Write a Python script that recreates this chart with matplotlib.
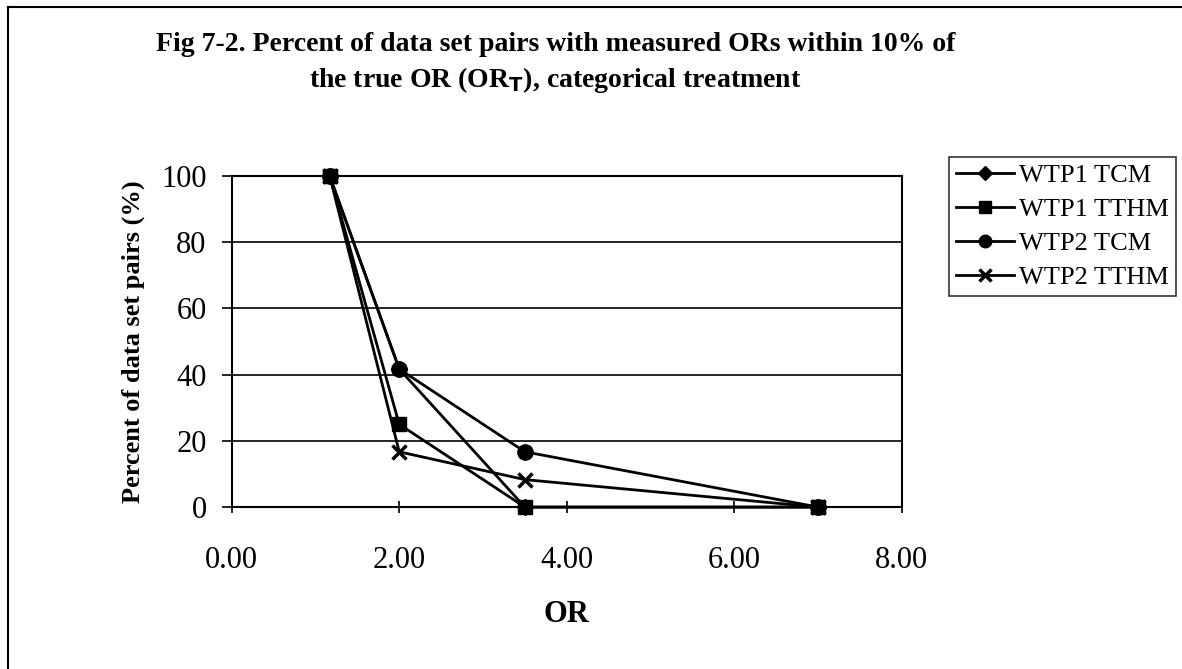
import matplotlib.pyplot as plt
from matplotlib.lines import Line2D

# odds ratios (x) and percent of pairs within 10% of true OR (y)
odds_ratio = [1.17, 2.0, 3.5, 7.0]
wtp1_tcm = [100, 41.7, 0, 0]
wtp1_tthm = [100, 25.0, 0, 0]
wtp2_tcm = [100, 41.7, 16.7, 0]
wtp2_tthm = [100, 16.7, 8.3, 0]

series_names = ["WTP1 TCM", "WTP1 TTHM", "WTP2 TCM", "WTP2 TTHM"]
x_ticks = [0, 2, 4, 6, 8]
y_ticks = [0, 20, 40, 60, 80, 100]

plt.rcParams['font.family'] = ['Liberation Serif', 'DejaVu Serif']

fig = plt.figure(figsize=(11.82, 6.69), dpi=100)
ax = fig.add_axes([0.196, 0.242, 0.567, 0.495])

ax.plot(odds_ratio, wtp1_tcm, color='black', lw=2, marker='D', ms=8, clip_on=False)
ax.plot(odds_ratio, wtp1_tthm, color='black', lw=2, marker='s', ms=10, clip_on=False)
ax.plot(odds_ratio, wtp2_tcm, color='black', lw=2, marker='o', ms=11, clip_on=False)
ax.plot(odds_ratio, wtp2_tthm, color='black', lw=2, marker='x', ms=10, mew=2.5, clip_on=False)

ax.set_xlim(0, 8)
ax.set_ylim(0, 100)
ax.set_xticks(x_ticks)
ax.set_xticklabels(["%.2f" % v for v in x_ticks])
ax.set_yticks(y_ticks)
ax.yaxis.grid(True, color='black', lw=1.2)
ax.set_axisbelow(True)
ax.tick_params(axis='x', direction='inout', length=8, width=1.2, labelsize=22, pad=24)
ax.tick_params(axis='y', direction='out', length=7, width=1.2, labelsize=22, pad=11)
for s in ax.spines.values():
    s.set_linewidth(1.5)

ax.set_xlabel("OR", fontsize=22, fontweight='bold', labelpad=18)
ax.set_ylabel("Percent of data set pairs (%)", fontsize=19, fontweight='bold', labelpad=12)

fig.text(0.47, 0.933, "Fig 7-2. Percent of data set pairs with measured ORs within 10% of",
         ha='center', va='center', fontsize=20, fontweight='bold')
fig.text(0.47, 0.88, r"the true OR (OR$_\mathbf{T}$), categorical treatment",
         ha='center', va='center', fontsize=20, fontweight='bold')

handles = [
    Line2D([], [], color='black', lw=2, marker='D', ms=7),
    Line2D([], [], color='black', lw=2, marker='s', ms=9),
    Line2D([], [], color='black', lw=2, marker='o', ms=9),
    Line2D([], [], color='black', lw=2, marker='x', ms=9, mew=2.5),
]
leg = fig.legend(handles, series_names, loc='upper left', bbox_to_anchor=(0.803, 0.765),
                 fontsize=19, frameon=True, fancybox=False, handlelength=2.2,
                 handletextpad=0.2, borderpad=0.25, labelspacing=0.4, borderaxespad=0)
leg.get_frame().set_edgecolor('black')
leg.get_frame().set_linewidth(1.2)

# outer chart frame (top and left edges visible in the scan)
fig.add_artist(Line2D([0.007, 0.007], [0, 0.99], color='black', lw=1.5))
fig.add_artist(Line2D([0.007, 1.0], [0.99, 0.99], color='black', lw=1.5))

fig.savefig("out.png", dpi=100)
